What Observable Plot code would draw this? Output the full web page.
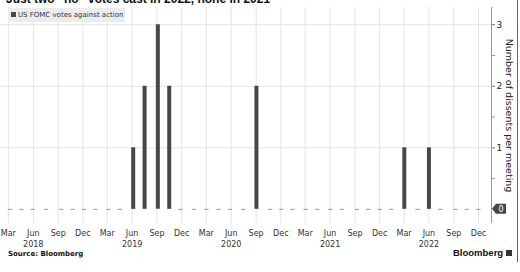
<!DOCTYPE html>
<html>
<head>
<meta charset="utf-8">
<script src="https://cdn.jsdelivr.net/npm/d3@7"></script>
<script src="https://cdn.jsdelivr.net/npm/@observablehq/plot@0.6"></script>
<style>
  html, body { margin: 0; padding: 0; background: #fff; }
  #wrap { position: relative; width: 520px; height: 272px; overflow: hidden; background: #fff; }
  #title { position: absolute; left: 6px; top: -8px; font: bold 12px "Liberation Sans", Arial, sans-serif; color: #111; white-space: nowrap; }
  #legend { position: absolute; left: 8px; top: 8px; height: 14px; width: 117px; background: #ececec; font: 7px "DejaVu Sans", sans-serif; color: #333; line-height: 14px; white-space: nowrap; }
  #legend .sw { display: inline-block; width: 5px; height: 5px; background: #474747; margin: 0 2px 0 3px; vertical-align: 0px; }
  #chart { position: absolute; left: 0; top: 0; }
  #source { position: absolute; left: 8px; top: 250px; font: bold 7px "DejaVu Sans", sans-serif; color: #111; white-space: nowrap; }
  #logo { position: absolute; left: 453px; top: 247px; font: bold 9.5px "Liberation Sans", Arial, sans-serif; color: #111; white-space: nowrap; }
  #logo .ic { display: inline-block; width: 6px; height: 6px; background: #333; margin-left: 3px; vertical-align: 0px; }
  #border { position: absolute; left: 517px; top: 0; width: 1px; height: 262px; background: #666; }
</style>
</head>
<body>
<div id="wrap">
  <div id="title"></div>
  <div id="chart"></div>
  <div id="legend"><span class="sw"></span><span id="legendText"></span></div>
  <div id="source"></div>
  <div id="logo"><span id="logoText"></span><span class="ic"></span></div>
  <div id="border"></div>
</div>
<script>
const titleText = "Just two \u201cno\u201d votes cast in 2022, none in 2021";
const seriesName = "US FOMC votes against action";
const yLabel = "Number of dissents per meeting";
const sourceText = "Source: Bloomberg";
const logoText = "Bloomberg";

const meetingDates = [
  "2018-01-31","2018-03-21","2018-05-02","2018-06-13","2018-08-01","2018-09-26","2018-11-08","2018-12-19",
  "2019-01-30","2019-03-20","2019-05-01","2019-06-19","2019-07-31","2019-09-18","2019-10-30","2019-12-11",
  "2020-01-29","2020-03-15","2020-04-29","2020-06-10","2020-07-29","2020-09-16","2020-11-05","2020-12-16",
  "2021-01-27","2021-03-17","2021-04-28","2021-06-16","2021-07-28","2021-09-22","2021-11-03","2021-12-15",
  "2022-01-26","2022-03-16","2022-05-04","2022-06-15","2022-07-27","2022-09-21","2022-11-02","2022-12-14"
];
const dissents = [
  0,0,0,0,0,0,0,0,
  0,0,0,1,2,3,2,0,
  0,0,0,0,0,2,0,0,
  0,0,0,0,0,0,0,0,
  0,1,0,1,0,0,0,0
];

const tickDates = [
  "2018-03-15","2018-06-15","2018-09-15","2018-12-15",
  "2019-03-15","2019-06-15","2019-09-15","2019-12-15",
  "2020-03-15","2020-06-15","2020-09-15","2020-12-15",
  "2021-03-15","2021-06-15","2021-09-15","2021-12-15",
  "2022-03-15","2022-06-15","2022-09-15","2022-12-15"
].map(s => new Date(s));
const yTicks = [1, 2, 3];
const yMinorTicks = [0.5, 1.5, 2.5];
const lastValue = [0];

const xDomain = [new Date("2018-02-14"), new Date("2023-02-01")];
const yDomain = [-0.23, 3.28];

document.getElementById("title").textContent = titleText;
document.getElementById("legendText").textContent = seriesName;
document.getElementById("source").textContent = sourceText;
document.getElementById("logoText").textContent = logoText;

const DAY = 86400000;
const data = meetingDates.map((d, i) => ({date: new Date(d), value: dissents[i]}));
const zeros = data.filter(d => d.value === 0);
const bars = data.filter(d => d.value > 0);

const fmtMonth = d3.utcFormat("%b");
const chart = Plot.plot({
  width: 520,
  height: 250,
  marginLeft: 0,
  marginRight: 29,
  marginTop: 7,
  marginBottom: 27,
  x: {type: "utc", domain: xDomain, label: null},
  y: {domain: yDomain, label: null},
  style: {fontFamily: "DejaVu Sans, sans-serif", fontSize: "8px", color: "#333", background: "transparent"},
  marks: [
    Plot.ruleX(tickDates, {stroke: "#e3e3e3"}),
    Plot.ruleY(yTicks, {stroke: "#e3e3e3"}),
    Plot.link(zeros, {x1: d => new Date(+d.date - 8 * DAY), x2: d => new Date(+d.date + 8 * DAY), y1: 0, y2: 0, stroke: "#999", clip: true}),
    Plot.ruleX(bars, {x: "date", y1: 0, y2: "value", stroke: "#474747", strokeWidth: 4}),
    Plot.ruleX([xDomain[1]], {stroke: "#999"}),
    Plot.axisX({ticks: tickDates, tickSize: 0, tickPadding: 5, lineHeight: 1.35, fill: "#333", label: null,
      tickFormat: d => fmtMonth(d) + (d.getUTCMonth() === 5 ? "\n" + d.getUTCFullYear() : "")}),
    Plot.axisY({anchor: "right", ticks: yTicks, tickSize: 3, tickPadding: 2, fontSize: 9, fill: "#222", stroke: "#777",
      label: null, tickFormat: d => String(d)}),
    Plot.axisY({anchor: "right", ticks: yMinorTicks, tickSize: 3, tickFormat: () => "", stroke: "#999", label: null}),
    Plot.text([yLabel], {frameAnchor: "right", rotate: 90, dx: 18, textAnchor: "middle", text: d => d, fontSize: 9.5, fill: "#222"})
  ]
});

// "last value" badge at y = 0 on the right axis
const sx = chart.scale("x"), sy = chart.scale("y");
const px = sx.apply(xDomain[1]), py = sy.apply(lastValue[0]);
const ns = "http://www.w3.org/2000/svg";
const g = document.createElementNS(ns, "g");
const poly = document.createElementNS(ns, "polygon");
poly.setAttribute("points", [[px + 1, py], [px + 5, py - 5], [px + 15, py - 5], [px + 15, py + 5], [px + 5, py + 5]].map(p => p.join(",")).join(" "));
poly.setAttribute("fill", "#474747");
const t = document.createElementNS(ns, "text");
t.setAttribute("x", px + 10);
t.setAttribute("y", py + 3);
t.setAttribute("text-anchor", "middle");
t.setAttribute("fill", "#fff");
t.setAttribute("font-size", "8px");
t.textContent = String(lastValue[0]);
g.appendChild(poly); g.appendChild(t);
chart.appendChild(g);

document.getElementById("chart").appendChild(chart);
</script>
</body>
</html>
